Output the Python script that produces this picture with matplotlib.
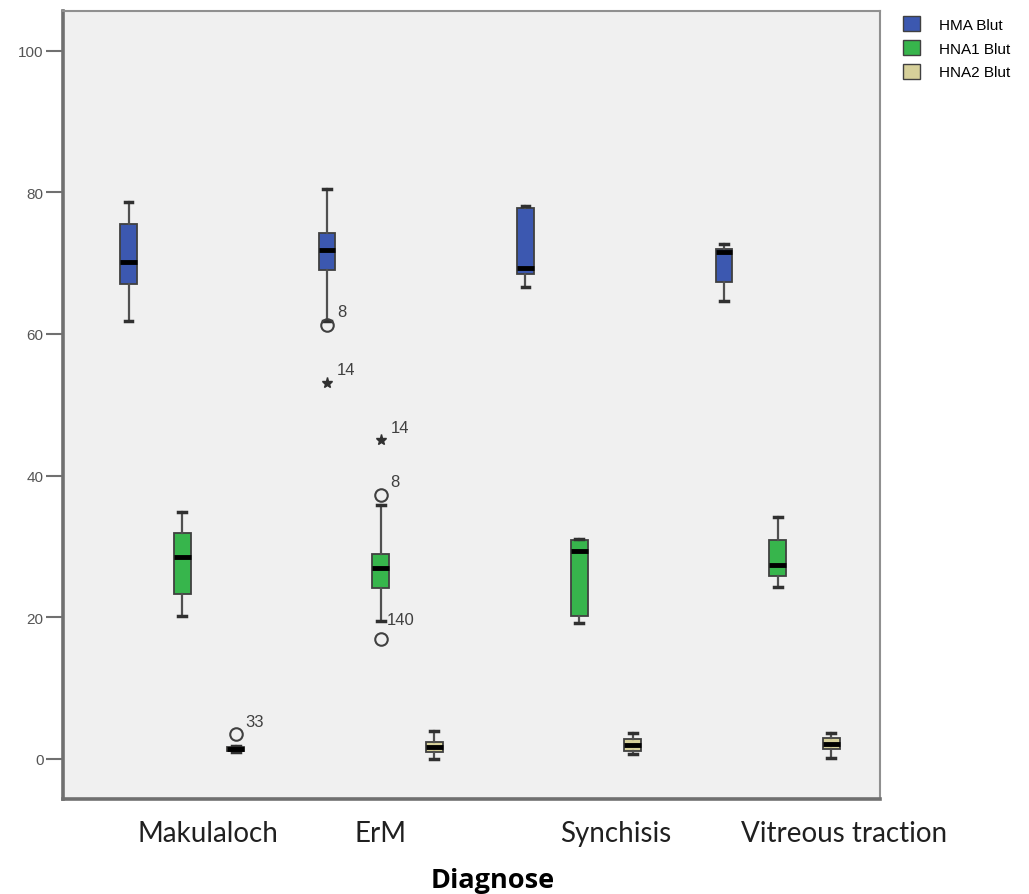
import matplotlib
matplotlib.use("Agg")
import matplotlib.pyplot as plt
import matplotlib.patches as mpatches
from matplotlib.transforms import ScaledTranslation

categories = ["Makulaloch", "ErM", "Synchisis", "Vitreous traction"]
series = ["HMA Blut", "HNA1 Blut", "HNA2 Blut"]

# box statistics, one value per category
hma_whislo = [61.9, 61.8, 66.6, 64.7]
hma_q1 = [67.0, 69.0, 68.5, 67.3]
hma_med = [70.1, 71.8, 69.3, 71.6]
hma_q3 = [75.5, 74.2, 77.8, 72.0]
hma_whishi = [78.7, 80.4, 78.0, 72.7]

hna1_whislo = [20.2, 19.5, 19.2, 24.3]
hna1_q1 = [23.3, 24.2, 20.2, 25.8]
hna1_med = [28.5, 26.9, 29.3, 27.4]
hna1_q3 = [31.9, 29.0, 30.9, 30.9]
hna1_whishi = [34.9, 35.8, 31.0, 34.2]

hna2_whislo = [1.0, 0.0, 0.7, 0.1]
hna2_q1 = [1.1, 0.95, 1.1, 1.4]
hna2_med = [1.4, 1.7, 2.0, 2.1]
hna2_q3 = [1.7, 2.35, 2.8, 2.9]
hna2_whishi = [1.8, 4.0, 3.7, 3.6]

# outliers: (series, category, value, kind, case label)
outlier_series = ["HMA Blut", "HMA Blut", "HNA1 Blut", "HNA1 Blut", "HNA1 Blut", "HNA2 Blut"]
outlier_cats = ["ErM", "ErM", "ErM", "ErM", "ErM", "Makulaloch"]
outlier_vals = [61.3, 53.1, 45.0, 37.3, 16.9, 3.5]
outlier_kind = ["o", "*", "*", "o", "o", "o"]
outlier_labels = ["8", "14", "14", "8", "", "33"]

# SPSS put the "140" label next to the lower whisker end
extra_label_series = "HNA1 Blut"
extra_label_cat = "ErM"
extra_label_val = 19.5
extra_label_text = "140"

stats = {
    "HMA Blut": (hma_whislo, hma_q1, hma_med, hma_q3, hma_whishi),
    "HNA1 Blut": (hna1_whislo, hna1_q1, hna1_med, hna1_q3, hna1_whishi),
    "HNA2 Blut": (hna2_whislo, hna2_q1, hna2_med, hna2_q3, hna2_whishi),
}
colors = {"HMA Blut": "#3c58b0", "HNA1 Blut": "#37b54c", "HNA2 Blut": "#d6d09a"}
offset = {"HMA Blut": -0.27, "HNA1 Blut": 0.0, "HNA2 Blut": 0.27}
edge = "#404040"

fig = plt.figure(figsize=(10.29, 8.95), dpi=100)
fig.patch.set_facecolor("white")
ax = fig.add_axes([63 / 1029, 95 / 895, 817 / 1029, 788 / 895])
ax.set_facecolor("#f0f0f0")

for s in series:
    wl, q1, md, q3, wh = stats[s]
    bstats = []
    pos = []
    for i, c in enumerate(categories):
        bstats.append(dict(whislo=wl[i], q1=q1[i], med=md[i], q3=q3[i],
                           whishi=wh[i], fliers=[]))
        pos.append(i + offset[s])
    ax.bxp(bstats, positions=pos, widths=0.085, capwidths=0.04,
           patch_artist=True, showfliers=False,
           boxprops=dict(facecolor=colors[s], edgecolor=edge, linewidth=1.3),
           medianprops=dict(color="black", linewidth=3.5),
           whiskerprops=dict(color="#505050", linewidth=1.6),
           capprops=dict(color="#303030", linewidth=2.5))

for s, c, v, k, lab in zip(outlier_series, outlier_cats, outlier_vals,
                           outlier_kind, outlier_labels):
    x = categories.index(c) + offset[s]
    if k == "o":
        ax.plot(x, v, marker="o", ms=9, mfc="none", mec="#404040", mew=1.5,
                zorder=5)
    else:
        ax.plot(x, v, marker="*", ms=8, color="#303030", zorder=5)
    if lab:
        ax.annotate(lab, (x, v), xytext=(10, 13), textcoords="offset pixels",
                    fontsize=12, color="#404040", ha="left", va="center",
                    family="Liberation Sans")

xe = categories.index(extra_label_cat) + offset[extra_label_series]
ax.annotate(extra_label_text, (xe, extra_label_val), xytext=(6, 1),
            textcoords="offset pixels", fontsize=12, color="#404040",
            ha="left", va="center", family="Liberation Sans")

ax.set_xlim(-0.60, 3.516)
ax.set_ylim(-5.65, 105.6)

ax.set_yticks([0, 20, 40, 60, 80, 100])
ax.tick_params(axis="y", length=12, width=1.5, color="#707070",
               labelsize=11, labelcolor="#555555", pad=2)
for t in ax.get_yticklabels():
    t.set_family("Liberation Sans")

ax.set_xticks(range(len(categories)))
ax.set_xticklabels(categories, fontsize=20, color="#202020", family="Lato")
ax.tick_params(axis="x", length=0, pad=15)
# SPSS shifted the category labels a bit to the right
label_shift_px = [26, 0, 37, 66]
for t, dx in zip(ax.get_xticklabels(), label_shift_px):
    t.set_transform(t.get_transform() + ScaledTranslation(dx / 100, 0, fig.dpi_scale_trans))

ax.set_xlabel("Diagnose", fontsize=19.5, fontweight="bold", family="Open Sans")
ax.xaxis.set_label_coords(0.526, -0.086)

for side in ["left", "bottom"]:
    ax.spines[side].set_linewidth(2.6)
    ax.spines[side].set_color("#707070")
for side in ["top", "right"]:
    ax.spines[side].set_linewidth(1.5)
    ax.spines[side].set_color("#909090")

handles = [mpatches.Patch(facecolor=colors[s], edgecolor=edge, label=s) for s in series]
leg = fig.legend(handles=handles, loc="upper left", bbox_to_anchor=(900 / 1029, 1 - 14 / 895),
                 frameon=False, handlelength=1.1, handleheight=1.1,
                 handletextpad=1.25, labelspacing=0.55, borderaxespad=0.0,
                 borderpad=0.2, prop={"family": "Liberation Sans", "size": 11})

fig.savefig("out.png", dpi=100)
